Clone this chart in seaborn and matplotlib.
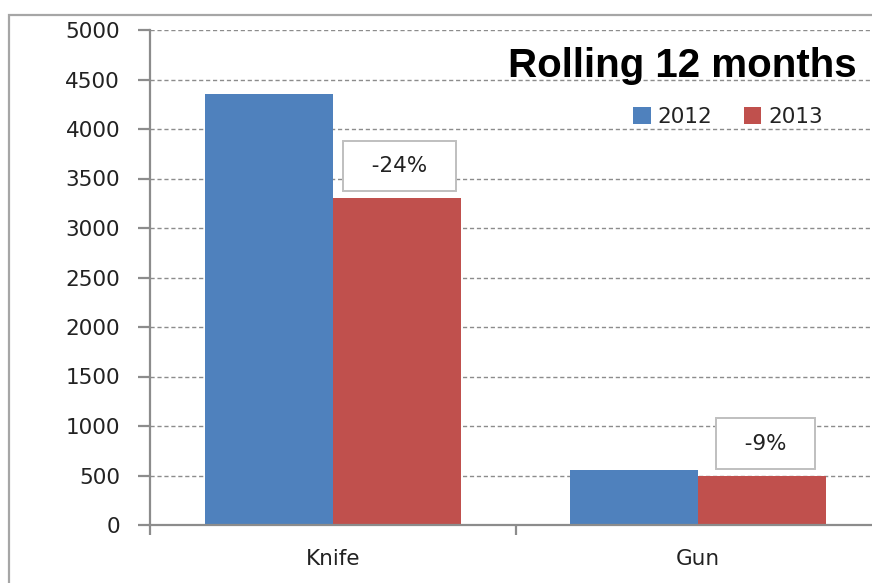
import matplotlib
matplotlib.use("Agg")
import matplotlib.pyplot as plt
from matplotlib.patches import Rectangle, Patch
import seaborn as sns
import pandas as pd

categories = ["Knife", "Gun"]
years = ["2012", "2013"]
values_2012 = [4350, 555]
values_2013 = [3300, 500]
changes = ["-24%", "-9%"]
yticks = [0, 500, 1000, 1500, 2000, 2500, 3000, 3500, 4000, 4500, 5000]
colors = ["#4F81BD", "#C0504D"]
title = "Rolling 12 months"

df = pd.DataFrame({
    "category": categories * 2,
    "year": [years[0]] * 2 + [years[1]] * 2,
    "value": values_2012 + values_2013,
})

sns.set_style("white")
plt.rcParams["font.family"] = ["DejaVu Sans"]

W, H = 872, 583
fig = plt.figure(figsize=(W / 100, H / 100), dpi=100)
ax = fig.add_axes([150 / W, (H - 525) / H, (881 - 150) / W, (525 - 30) / H])

sns.barplot(data=df, x="category", y="value", hue="year", order=categories,
            hue_order=years, palette=colors, width=0.7, gap=0, saturation=1,
            ax=ax, legend=False, edgecolor="none", linewidth=0)

ax.set_xlim(-0.5, 1.5)
ax.set_ylim(0, 5000)
ax.set_yticks(yticks)
ax.set_yticklabels([str(t) for t in yticks])
ax.set_xlabel("")
ax.set_ylabel("")

axis_col = "#8C8C8C"
for s in ["top", "right"]:
    ax.spines[s].set_visible(False)
for s in ["left", "bottom"]:
    ax.spines[s].set_color(axis_col)
    ax.spines[s].set_linewidth(1.6)

ax.grid(axis="y", linestyle=(0, (3, 2)), color="#8C8C8C", linewidth=1.0)
ax.set_axisbelow(True)

fs = 15.5
ax.tick_params(axis="y", length=8.5, width=1.6, color=axis_col, pad=13,
               labelsize=fs, labelcolor="#222222", direction="out", left=True)
ax.tick_params(axis="x", which="major", length=0, pad=17, labelsize=fs,
               labelcolor="#222222")
ax.set_xticks([-0.5, 0.5, 1.5], minor=True)
ax.tick_params(axis="x", which="minor", length=7.5, width=1.6, color=axis_col,
               direction="out", bottom=True)

# change annotations above 2013 bars
for i, (v, txt) in enumerate(zip(values_2013, changes)):
    ax.annotate("  " + txt + "  ", xy=(i + 0.175, v), xytext=(3, 32),
                textcoords="offset pixels", ha="center", va="center",
                fontsize=fs, color="#222222",
                bbox=dict(boxstyle="square,pad=0.7", fc="white",
                          ec="#BFBFBF", lw=1.4))

# legend
handles = [Patch(facecolor=c, edgecolor="none", label=y) for c, y in zip(colors, years)]
fig.legend(handles=handles, loc="center", ncol=2, frameon=False,
           bbox_to_anchor=(728 / W, 1 - 117 / H), bbox_transform=fig.transFigure,
           fontsize=fs, handlelength=0.8, handleheight=0.8, handletextpad=0.3,
           columnspacing=1.5, labelcolor="#222222")

# title
fig.text(857 / W, 1 - 77 / H, title, ha="right", va="baseline",
         fontsize=29, fontweight="bold", family=["Liberation Sans", "DejaVu Sans"],
         color="black")

# outer chart border
fig.patches.append(Rectangle((9 / W, -0.1), 1.2, 1 - 15 / H + 0.1,
                             transform=fig.transFigure, fill=False,
                             ec="#A6A6A6", lw=1.6))

fig.savefig("out.png", dpi=100)
